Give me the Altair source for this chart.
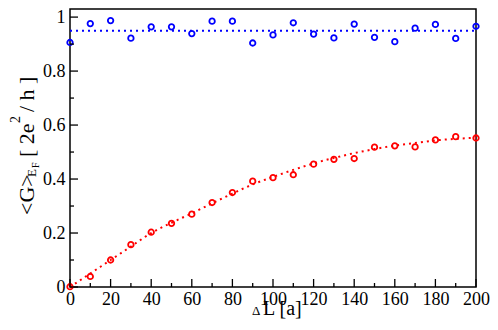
import altair as alt
import pandas as pd

# ---- data ----
dl = [0, 10, 20, 30, 40, 50, 60, 70, 80, 90, 100, 110, 120, 130, 140, 150, 160, 170, 180, 190, 200]
g_blue = [0.906, 0.976, 0.987, 0.922, 0.964, 0.964, 0.939, 0.985, 0.985, 0.904, 0.934,
          0.979, 0.937, 0.923, 0.974, 0.925, 0.909, 0.959, 0.973, 0.921, 0.966]
g_red = [0.001, 0.039, 0.100, 0.157, 0.203, 0.236, 0.270, 0.313, 0.350, 0.392, 0.405,
         0.416, 0.455, 0.473, 0.476, 0.518, 0.523, 0.519, 0.545, 0.557, 0.552]
fit_blue_x = [0, 200]
fit_blue_y = [0.949, 0.949]
fit_red_y = [0.0, 0.05, 0.10, 0.15, 0.20, 0.238, 0.273, 0.31, 0.346, 0.38, 0.408,
             0.434, 0.458, 0.478, 0.496, 0.511, 0.524, 0.534, 0.543, 0.549, 0.553]

x_major = [0, 20, 40, 60, 80, 100, 120, 140, 160, 180, 200]
x_minor = [10, 30, 50, 70, 90, 110, 130, 150, 170, 190]
y_major = [0, 0.2, 0.4, 0.6, 0.8, 1.0]
y_minor = [0.1, 0.3, 0.5, 0.7, 0.9]

W, H = 406, 278
FONT = "Liberation Serif, serif"

xs = alt.Scale(domain=[0, 200], nice=False, zero=False)
ys = alt.Scale(domain=[0, 1.03], nice=False)

xax = alt.Axis(values=x_major, ticks=False, domain=False, grid=False, title=None,
               labelFont=FONT, labelFontSize=18, labelColor="black", labelPadding=3,
               labelFlush=False, labelOverlap=False, format="d")
yax = alt.Axis(values=y_major, ticks=False, domain=False, grid=False, title=None,
               labelFont=FONT, labelFontSize=18, labelColor="black", labelPadding=5,
               labelFlush=False, labelOverlap=False, format="~g")

df_pts = pd.DataFrame({"x": dl, "blue": g_blue, "red": g_red, "fit": fit_red_y})
df_bfit = pd.DataFrame({"x": fit_blue_x, "y": fit_blue_y})

X = alt.X("x:Q", scale=xs, axis=xax)

blue_line = alt.Chart(df_bfit).mark_line(color="#0000ff", strokeDash=[2, 4], strokeWidth=2).encode(
    x=X, y=alt.Y("y:Q", scale=ys, axis=yax))
red_line = alt.Chart(df_pts).mark_line(color="#ff0000", strokeDash=[2, 4], strokeWidth=2,
                                       interpolate="monotone").encode(
    x=X, y=alt.Y("fit:Q", scale=ys, axis=yax))
blue_pts = alt.Chart(df_pts).mark_point(shape="circle", filled=False, size=30, strokeWidth=1.8,
                                        color="#0000ff", opacity=1).encode(
    x=X, y=alt.Y("blue:Q", scale=ys, axis=yax))
red_pts = alt.Chart(df_pts).mark_point(shape="circle", filled=False, size=30, strokeWidth=1.8,
                                       color="#ff0000", opacity=1).encode(
    x=X, y=alt.Y("red:Q", scale=ys, axis=yax))


def xticks(vals, length):
    return alt.Chart(pd.DataFrame({"v": vals})).mark_rule(color="black", strokeWidth=1.3).encode(
        x=alt.X("v:Q", scale=xs, axis=xax), y=alt.value(H), y2=alt.value(H - length))


def yticks(vals, length):
    return alt.Chart(pd.DataFrame({"v": vals})).mark_rule(color="black", strokeWidth=1.3).encode(
        y=alt.Y("v:Q", scale=ys, axis=yax), x=alt.value(0), x2=alt.value(length))


def label(text, x, y, size, angle=0):
    kw = dict(text=text, font=FONT, fontSize=size, color="black", align="left",
              baseline="alphabetic")
    if angle:
        kw["angle"] = angle
    return alt.Chart(pd.DataFrame({"a": [0]})).mark_text(**kw).encode(
        x=alt.value(x), y=alt.value(y))


ytitle = [
    label("<G>", -36, 206, 22, 270),
    label("E", -34, 168, 13, 270),
    label("F", -31, 159, 10, 270),
    label("[ 2e", -36, 148, 22, 270),
    label("2", -50, 114, 14, 270),
    label("/ h ]", -36, 103, 22, 270),
]
xtitle = [
    label("\u0394", 182, 306, 13),
    label("L [a]", 193, 306, 20),
]

chart = alt.layer(
    blue_line, red_line, blue_pts, red_pts,
    xticks(x_major, 8), xticks(x_minor, 4), yticks(y_major, 8), yticks(y_minor, 4),
    *ytitle, *xtitle
).properties(
    width=W, height=H,
    autosize=alt.AutoSizeParams(type="none"),
    padding={"left": 62, "top": 1, "right": 14, "bottom": 33},
    background="white",
).configure_view(stroke="black", strokeWidth=1.5)

chart.save("out.html", embed_options={"renderer": "svg", "actions": False})
